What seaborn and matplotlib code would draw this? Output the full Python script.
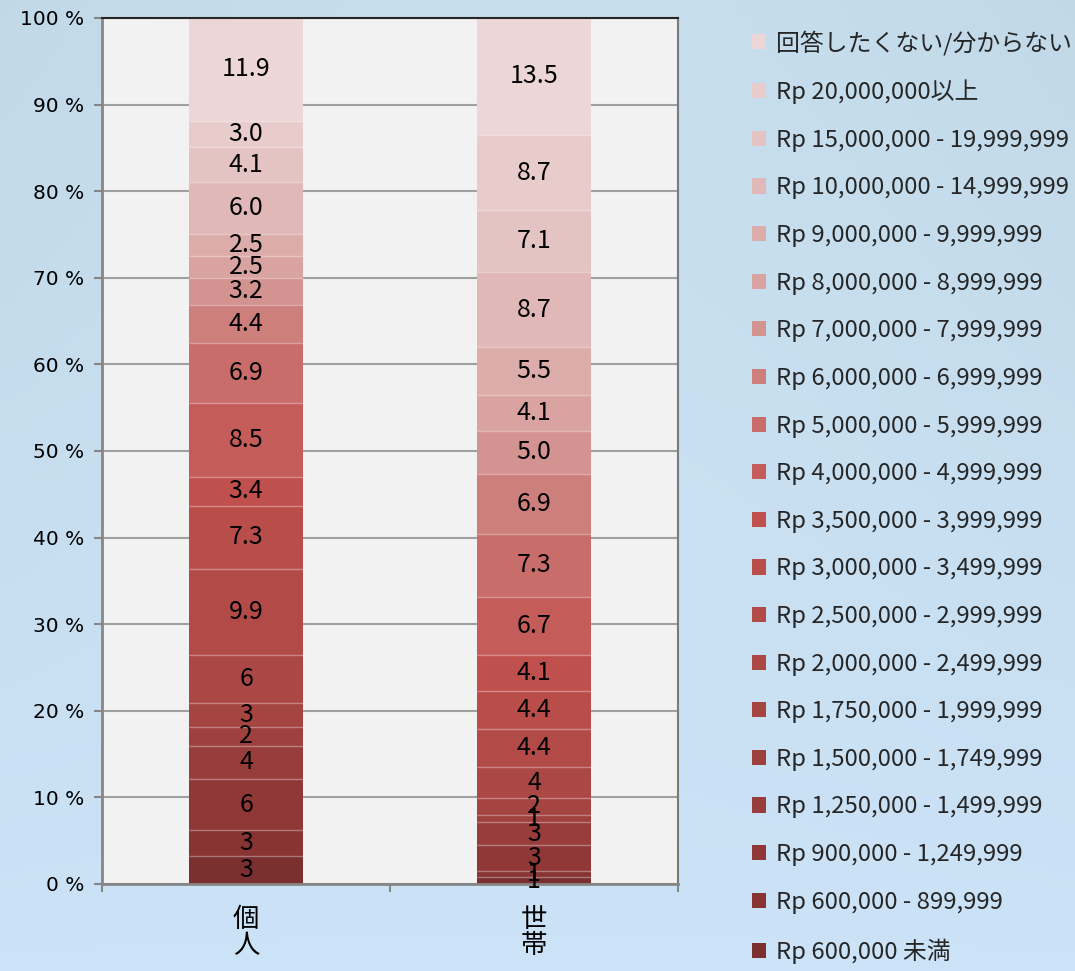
import numpy as np
import pandas as pd
import seaborn as sns
import matplotlib.pyplot as plt
from matplotlib.patches import Patch

# data (percent shares, bottom category first)
groups = ['個\n人', '世\n帯']
categories = ['Rp 600,000 未満', 'Rp 600,000 - 899,999', 'Rp 900,000 - 1,249,999',
              'Rp 1,250,000 - 1,499,999', 'Rp 1,500,000 - 1,749,999', 'Rp 1,750,000 - 1,999,999',
              'Rp 2,000,000 - 2,499,999', 'Rp 2,500,000 - 2,999,999', 'Rp 3,000,000 - 3,499,999',
              'Rp 3,500,000 - 3,999,999', 'Rp 4,000,000 - 4,999,999', 'Rp 5,000,000 - 5,999,999',
              'Rp 6,000,000 - 6,999,999', 'Rp 7,000,000 - 7,999,999', 'Rp 8,000,000 - 8,999,999',
              'Rp 9,000,000 - 9,999,999', 'Rp 10,000,000 - 14,999,999', 'Rp 15,000,000 - 19,999,999',
              'Rp 20,000,000以上', '回答したくない/分からない']
individual = [3.2, 3.0, 5.9, 3.9, 2.1, 2.8, 5.6, 9.9, 7.3, 3.4,
              8.5, 6.9, 4.4, 3.2, 2.5, 2.5, 6.0, 4.1, 3.0, 11.9]
household = [0.8, 0.7, 3.0, 2.6, 0.9, 1.9, 3.6, 4.4, 4.4, 4.1,
             6.7, 7.3, 6.9, 5.0, 4.1, 5.5, 8.7, 7.1, 8.7, 13.5]
n_int = 7  # first 7 categories are labelled without decimals

colors = ['#7b2f2f', '#873433', '#8f3837', '#973d3b', '#9d403e', '#a54542',
          '#ab4845', '#b24b48', '#b84d4a', '#c0504d', '#c45c59', '#c96d6a',
          '#cd7f7c', '#d39391', '#d9a3a1', '#dcacaa', '#e0b8b7', '#e4c3c3',
          '#e8cccc', '#ecd6d6']

sns.set_theme(style='white')
plt.rcParams['font.family'] = ['Noto Sans CJK JP', 'DejaVu Sans']

fig = plt.figure(figsize=(10.75, 9.71), dpi=100)

# light blue backdrop
bg = fig.add_axes([0, 0, 1, 1], zorder=-10)
top_c = np.array([0.76, 0.85, 0.91])
bot_c = np.array([0.80, 0.89, 0.97])
t = np.linspace(0, 1, 200)[:, None, None]
s = np.linspace(0, 1, 200)[None, :, None]
grad = top_c * (1 - t) + bot_c * t + 0.02 * np.sin(np.pi * s) * (1 - t)
bg.imshow(np.clip(grad, 0, 1), aspect='auto', extent=[0, 1, 0, 1])
bg.axis('off')

ax = fig.add_axes([0.095, 0.0896, 0.5357, 0.8919])
ax.set_facecolor('#f2f2f2')

rows = []
for g, vals in zip(groups, [individual, household]):
    v = np.array(vals) / np.sum(vals) * 100
    tops = np.cumsum(v)
    for i, c in enumerate(categories):
        rows.append({'group': g, 'category': c, 'value': vals[i],
                     'pct': v[i], 'top': tops[i], 'idx': i})
df = pd.DataFrame(rows)

bar_w = 0.395
for i in range(len(categories) - 1, -1, -1):
    sub = df[df['idx'] == i]
    sns.barplot(data=sub, x='group', y='top', order=groups, color=colors[i],
                saturation=1, width=bar_w, linewidth=0, errorbar=None, ax=ax)

# thin light separators and labels
for gi, g in enumerate(groups):
    sub = df[df['group'] == g]
    ax.hlines(sub['top'].values[:-1], gi - bar_w / 2, gi + bar_w / 2,
              colors=[(1, 1, 1, 0.35)], lw=1, zorder=3)
    for _, r in sub.iterrows():
        lab = f"{r['value']:.0f}" if r['idx'] < n_int else f"{r['value']:.1f}"
        ax.text(gi, r['top'] - r['pct'] / 2, lab, ha='center', va='center',
                fontsize=18, color='black', zorder=4, clip_on=False)

ax.set_ylim(0, 100)
ax.set_xlim(-0.5, 1.5)
ax.set_yticks(np.arange(0, 101, 10))
ax.set_yticklabels([f'{v} %' for v in range(0, 101, 10)], fontfamily='DejaVu Sans', fontsize=14.5)
ax.set_xticks([0, 1])
ax.set_xticklabels(groups, fontsize=19, linespacing=0.95)
ax.set_xticks([-0.5, 0.5, 1.5], minor=True)
ax.set_xlabel('')
ax.set_ylabel('')

ax.set_axisbelow(True)
ax.yaxis.grid(True, color='#a0a0a0', lw=1.5)
ax.xaxis.grid(False)

ax.tick_params(axis='y', left=True, direction='out', length=6, width=1.5,
               color='#868686', pad=7, labelcolor='black')
ax.tick_params(axis='x', which='major', length=0, pad=16, labelcolor='black')
ax.tick_params(axis='x', which='minor', bottom=True, direction='out', length=6,
               width=1.5, color='#868686')

for side in ['left', 'bottom']:
    ax.spines[side].set_color('#868686')
    ax.spines[side].set_linewidth(2)
ax.spines['right'].set_color('#7a7a7a')
ax.spines['right'].set_linewidth(1.5)
ax.spines['top'].set_color('#262626')
ax.spines['top'].set_linewidth(1.5)

handles = [Patch(facecolor=colors[i], edgecolor='none') for i in range(len(categories) - 1, -1, -1)]
labels = categories[::-1]
fig.legend(handles, labels, loc='upper left', bbox_to_anchor=(0.6995, 0.969),
           frameon=False, fontsize=17.2, handlelength=0.6, handleheight=0.6,
           handletextpad=0.4, labelspacing=1.03, borderaxespad=0, borderpad=0)

fig.savefig('out.png', dpi=100)
